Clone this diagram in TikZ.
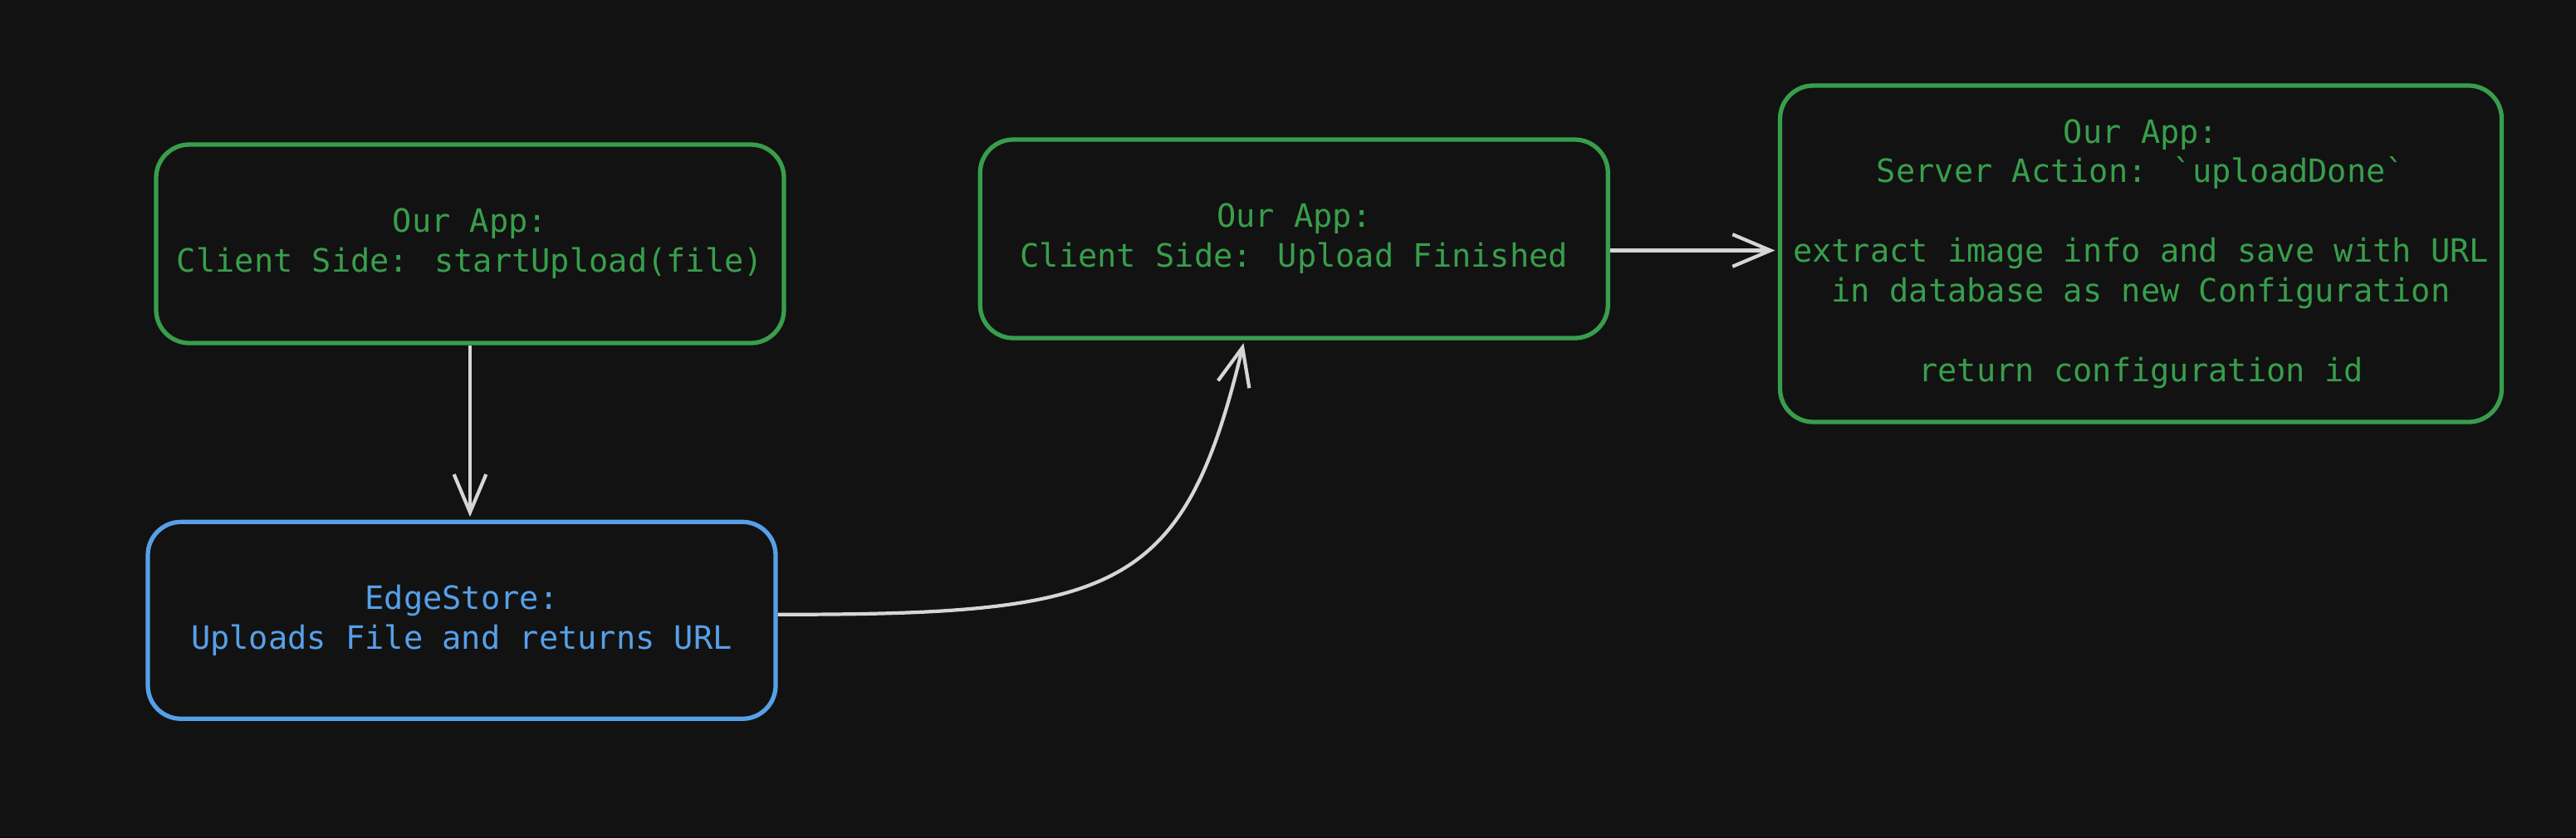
\documentclass[tikz,border=0pt]{standalone}
\usepackage{fontspec}
\newfontfamily\appfont{DejaVu Sans Mono}
\usetikzlibrary{arrows.meta,positioning}

\definecolor{bg}{HTML}{121212}
\definecolor{appgreen}{RGB}{56,158,76}
\definecolor{storeblue}{RGB}{86,160,232}
\definecolor{flow}{RGB}{214,214,214}
\newcommand{\bq}{\char96\relax}

\begin{document}
\begin{tikzpicture}[>={Straight Barb[length=13pt,width=11pt]},shorten >=1pt,
    box/.style={draw,rounded corners=0.4cm,line width=1.5pt,align=center,
        minimum width=7.56cm,minimum height=2.39cm,
        font=\appfont\fontsize{11}{13.6}\selectfont},
    app/.style={box,draw=appgreen,text=appgreen},
    storebox/.style={box,draw=storeblue,text=storeblue},
    flowline/.style={->,draw=flow,line width=1.2pt}]
    \fill[bg] (0,0) rectangle (31.02,10.09);
    \useasboundingbox (0,0) rectangle (31.02,10.09);

    \node[app] (client) at (5.66,7.155) {Our App:\\Client Side: startUpload(file)};
    \node[app] (finished) [right=2.31cm of client,yshift=0.06cm] {Our App:\\Client Side: Upload Finished};
    \node[app,minimum width=8.69cm,minimum height=4.05cm] (server) [right=2.02cm of finished,yshift=-0.18cm]
        {Our App:\\Server Action: \bq uploadDone\bq\\[0.48cm]
         extract image info and save with URL\\in database as new Configuration\\[0.48cm]
         return configuration id};
    \node[storebox,minimum height=2.37cm] (edgestore) [below=2.1cm of client,xshift=-0.1cm] {EdgeStore:\\Uploads File and returns URL};

    \draw[flowline] (client.south) -- (client.south |- edgestore.north);
    \draw[flowline] ([yshift=0.07cm]edgestore.east) .. controls +(4.08,0) and +(-0.73,-3.05) .. ([xshift=-0.6cm]finished.south);
    \draw[flowline] ([yshift=-0.14cm]finished.east) -- ([yshift=-0.14cm]finished.east -| server.west);
\end{tikzpicture}
\end{document}
